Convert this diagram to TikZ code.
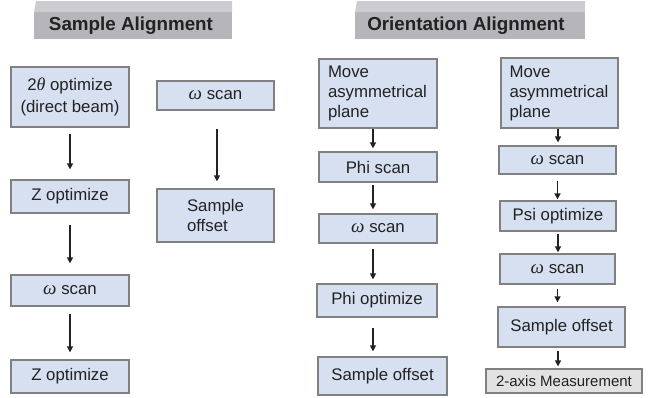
\documentclass[tikz,border=0pt]{standalone}
\usepackage{fontspec}
\setmainfont{Liberation Sans}
\newfontfamily\grk{Liberation Serif}
\usetikzlibrary{arrows.meta}
\definecolor{boxfill}{HTML}{D6E0F1}
\definecolor{boxline}{HTML}{808080}
\definecolor{txt}{HTML}{222222}
\definecolor{hdrfront}{HTML}{B6B6BA}
\definecolor{hdrtop}{HTML}{CDCDD1}
\definecolor{grayfill}{HTML}{E2E2E2}
\newcommand{\om}{{\grk\itshape\fontsize{19}{20}\selectfont ω}}
\newcommand{\thet}{{\grk\itshape\fontsize{18}{20}\selectfont θ}}
\tikzset{
  stepbox/.style={draw=boxline, line width=1.3pt, fill=boxfill, inner sep=0pt, align=center,
    text=txt, font=\fontsize{16.8}{20}\selectfont},
  lbox/.style={stepbox, align=left},
  hdrtext/.style={text=txt, font=\fontsize{18.8}{22}\bfseries\selectfont, inner sep=0pt},
  arr/.style={draw=txt, line width=1.5pt, -{Triangle[length=6pt,width=6pt]}},
}
\begin{document}
\begin{tikzpicture}[x=1pt,y=-1pt]
\useasboundingbox (0,0) rectangle (648,397);
% headers
\fill[hdrfront] (34,12) rectangle (232,39);
\fill[hdrtop] (36,1) -- (232,1) -- (232,12) -- (34,12) -- cycle;
\fill[hdrfront] (355,12) rectangle (585,39);
\fill[hdrtop] (357,1) -- (585,1) -- (585,12) -- (355,12) -- cycle;
\node[hdrtext] (h1) at (131,26) {Sample Alignment};
\node[hdrtext] (h2) at (466,26) {Orientation Alignment};

% column 1
\node[stepbox, minimum width=118, minimum height=60, font=\fontsize{16.8}{22}\selectfont] (a1) at (70,97) {2\thet{} optimize\\(direct beam)};
\node[stepbox, minimum width=118, minimum height=33] (a2) at (70,196.5) {Z optimize};
\node[stepbox, minimum width=118, minimum height=31] (a3) at (70,290.5) {\om{} scan};
\node[stepbox, minimum width=118, minimum height=33] (a4) at (70,376.5) {Z optimize};
\draw[arr, shorten <=6pt, shorten >=10pt] (a1.south) -- (a2.north);
\draw[arr, shorten <=11pt, shorten >=11pt] (a2.south) -- (a3.north);
\draw[arr, shorten <=7pt, shorten >=7pt] (a3.south) -- (a4.north);

% column 2
\node[stepbox, minimum width=117, minimum height=29] (b1) at (215.5,95.5) {\om{} scan};
\node[lbox, minimum width=117, minimum height=53] (b2) at (215.5,215.5) {Sample\\offset};
\draw[arr, shorten <=18pt, shorten >=7pt] ([xshift=1.5pt]b1.south) -- ([xshift=1.5pt]b2.north);

% column 3
\node[lbox, text width=100, minimum width=118, minimum height=69] (c1) at (378,93.5) {Move\\asymmetrical\\plane};
\node[stepbox, minimum width=118, minimum height=30] (c2) at (378,167) {Phi scan};
\node[stepbox, minimum width=118, minimum height=29] (c3) at (378,228.5) {\om{} scan};
\node[stepbox, minimum width=120, minimum height=33] (c4) at (377,300.5) {Phi optimize};
\node[stepbox, minimum width=129, minimum height=38] (c5) at (382.5,376) {Sample offset};
\draw[arr, shorten <=0pt, shorten >=3pt] ([xshift=-5pt]c1.south) -- ([xshift=-5pt]c1.south |- c2.north);
\draw[arr, shorten <=2pt, shorten >=4pt] ([xshift=-5pt]c2.south) -- ([xshift=-5pt]c2.south |- c3.north);
\draw[arr, shorten <=5pt, shorten >=4pt] ([xshift=-5pt]c3.south) -- ([xshift=-5pt]c3.south |- c4.north);
\draw[arr, shorten <=10pt, shorten >=5pt] ([xshift=-4pt]c4.south) -- ([xshift=-4pt]c4.south |- c5.north);

% column 4
\node[lbox, text width=100, minimum width=117, minimum height=70] (d1) at (559.5,93) {Move\\asymmetrical\\plane};
\node[stepbox, minimum width=117, minimum height=28] (d2) at (557.5,160) {\om{} scan};
\node[stepbox, minimum width=116, minimum height=30] (d3) at (558,216) {Psi optimize};
\node[stepbox, minimum width=115, minimum height=30] (d4) at (557.5,269) {\om{} scan};
\node[stepbox, minimum width=127, minimum height=40] (d5) at (561.5,327) {Sample offset};
\node[stepbox, fill=grayfill, minimum width=156, minimum height=24, font=\fontsize{15}{18}\selectfont] (d6) at (564,381) {2-axis Measurement};
\draw[arr, shorten <=0pt, shorten >=3pt] ([xshift=-1.5pt]d1.south) -- ([xshift=-1.5pt]d1.south |- d2.north);
\draw[arr, shorten <=6pt, shorten >=1pt] (d2.south) -- (d2.south |- d3.north);
\draw[arr, shorten <=2pt, shorten >=1pt] (d3.south) -- (d3.south |- d4.north);
\draw[arr, shorten <=4pt, shorten >=4pt] (d4.south) -- (d4.south |- d5.north);
\draw[arr, shorten <=3pt, shorten >=2pt] ([xshift=-3.5pt]d5.south) -- ([xshift=-3.5pt]d5.south |- d6.north);
\end{tikzpicture}
\end{document}
